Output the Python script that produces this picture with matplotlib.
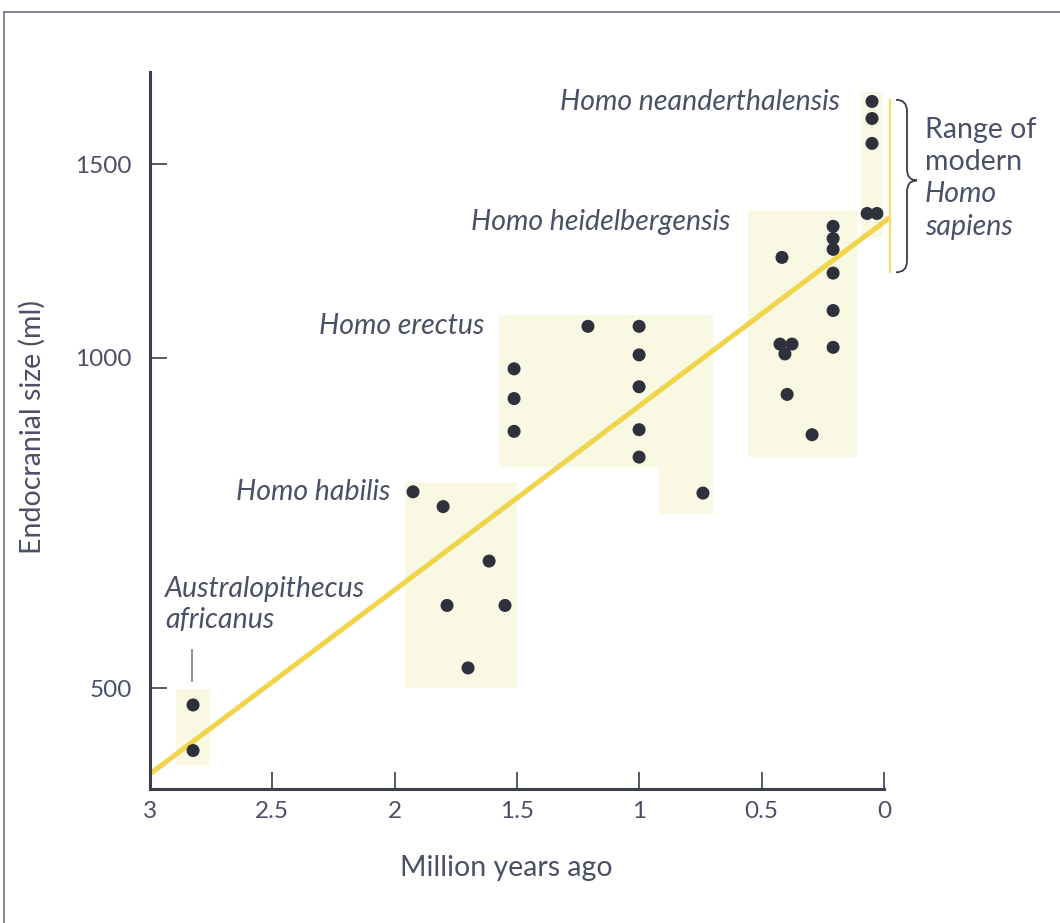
import matplotlib
matplotlib.use("Agg")
import matplotlib.pyplot as plt
from matplotlib.patches import Rectangle, PathPatch
from matplotlib.path import Path
from matplotlib.ticker import NullLocator, FixedLocator, FixedFormatter

plt.rcParams['font.family'] = ['Lato', 'DejaVu Sans']

# --- data (million years ago, endocranial size in ml) ---
austral_x = [2.824, 2.824]
austral_y = [483, 439]

habilis_x = [1.925, 1.802, 1.614, 1.786, 1.549, 1.700]
habilis_y = [755, 732, 653, 595, 595, 522]

erectus_x = [1.210, 1.001, 1.001, 1.001, 1.512, 1.512, 1.512, 1.001, 1.001, 0.740]
erectus_y = [1068, 1068, 1006, 941, 977, 918, 857, 860, 812, 753]

heidel_x = [0.417, 0.208, 0.208, 0.208, 0.208, 0.208, 0.208, 0.425, 0.376, 0.405, 0.396, 0.294]
heidel_y = [1234, 1317, 1284, 1255, 1194, 1104, 1022, 1029, 1029, 1008, 926, 851]

neander_x = [0.049, 0.049, 0.049, 0.069, 0.029]
neander_y = [1711, 1651, 1567, 1353, 1353]

# regression line end points
trend_x = [3.0, -0.025]
trend_y = [418, 1342]

# shaded ranges: (x_old, x_young, y_low, y_high)
shade_boxes = [
    (2.894, 2.754, 425, 499),
    (1.958, 1.500, 501, 771),
    (1.573, 0.699, 796, 1093),
    (0.920, 0.699, 720, 796),
    (0.556, 0.110, 812, 1362),
    (0.094, 0.004, 1284, 1744),
]

# modern Homo sapiens range
modern_range = [1196, 1717]

x_ticks = [3, 2.5, 2, 1.5, 1, 0.5, 0]
x_tick_labels = ["3", "2.5", "2", "1.5", "1", "0.5", "0"]
y_ticks = [500, 1000, 1500]
y_tick_labels = ["500", "1000", "1500"]

text_col = "#4b5068"
dark = "#3b3e4f"
dot_col = "#2e303c"
shade_col = "#f8f8e3"
yellow = "#f1d44a"

fig = plt.figure(figsize=(10.6, 9.23), dpi=100)
ax = fig.add_axes([150 / 1060, 1 - 789 / 923, (884 - 150) / 1060, (789 - 72) / 923])

ax.set_yscale("log")
ax.set_xlim(3, 0)
ax.set_ylim(405, 1820)

# shaded boxes
for x0, x1, y0, y1 in shade_boxes:
    ax.add_patch(Rectangle((x1, y0), x0 - x1, y1 - y0, facecolor=shade_col,
                           edgecolor="none", zorder=1, clip_on=False))

# trend line
ax.plot(trend_x, trend_y, color=yellow, lw=3.6, solid_capstyle="butt", zorder=2, clip_on=False)

# points
all_x = austral_x + habilis_x + erectus_x + heidel_x + neander_x
all_y = austral_y + habilis_y + erectus_y + heidel_y + neander_y
ax.scatter(all_x, all_y, s=88, color=dot_col, edgecolors="none", zorder=3, clip_on=False)

# modern range line + brace
ax.plot([-0.025, -0.025], modern_range, color="#f3dc6c", lw=1.6, zorder=2, clip_on=False)

y_lo, y_hi = modern_range
y_mid = 1450
k = 1.024
xt, xs, xp = -0.049, -0.094, -0.135
verts = [(xt, y_hi), (xs, y_hi), (xs, y_hi / k),
         (xs, y_mid * k), (xs, y_mid), (xp, y_mid),
         (xs, y_mid), (xs, y_mid / k),
         (xs, y_lo * k), (xs, y_lo), (xt, y_lo)]
codes = [Path.MOVETO, Path.CURVE3, Path.CURVE3,
         Path.LINETO, Path.CURVE3, Path.CURVE3,
         Path.CURVE3, Path.CURVE3,
         Path.LINETO, Path.CURVE3, Path.CURVE3]
ax.add_patch(PathPatch(Path(verts, codes), facecolor="none", edgecolor=dark,
                       lw=1.3, clip_on=False, zorder=3))

# labels
fs = 20.5
ax.text(0.18, 1682, "Homo neanderthalensis", style="italic", fontsize=fs, color=text_col,
        ha="right", va="baseline")
ax.text(0.629, 1306, "Homo heidelbergensis", style="italic", fontsize=fs, color=text_col,
        ha="right", va="baseline")
ax.text(1.635, 1050, "Homo erectus", style="italic", fontsize=fs, color=text_col,
        ha="right", va="baseline")
ax.text(2.019, 742, "Homo habilis", style="italic", fontsize=fs, color=text_col,
        ha="right", va="baseline")
ax.text(2.938, 606, "Australopithecus", style="italic", fontsize=fs, color=text_col,
        ha="left", va="baseline")
ax.text(2.938, 568, "africanus", style="italic", fontsize=fs, color=text_col,
        ha="left", va="baseline")
ax.plot([2.828, 2.828], [508, 542], color="#7a7f92", lw=1.2, clip_on=False)

range_lines = [("Range of", "normal", 1612), ("modern", "normal", 1508),
               ("Homo", "italic", 1410), ("sapiens", "italic", 1316)]
for txt, st, yv in range_lines:
    ax.text(-0.168, yv, txt, style=st, fontsize=fs, color=text_col, ha="left", va="center")

# axes styling
for side in ["top", "right"]:
    ax.spines[side].set_visible(False)
for side in ["left", "bottom"]:
    ax.spines[side].set_linewidth(2.2)
    ax.spines[side].set_color(dark)

ax.xaxis.set_major_locator(FixedLocator(x_ticks))
ax.xaxis.set_major_formatter(FixedFormatter(x_tick_labels))
ax.yaxis.set_major_locator(FixedLocator(y_ticks))
ax.yaxis.set_major_formatter(FixedFormatter(y_tick_labels))
ax.yaxis.set_minor_locator(NullLocator())
ax.xaxis.set_minor_locator(NullLocator())
ax.tick_params(direction="in", length=12, width=1.2, color=dark,
               labelsize=17.5, labelcolor=text_col)
ax.tick_params(axis="y", pad=13)
ax.tick_params(axis="x", pad=9)

ax.set_xlabel("Million years ago", fontsize=20.5, color=text_col)
ax.xaxis.label.set_va("center")
ax.xaxis.set_label_coords((506 - 150) / 734, (789 - 868) / 717)
ax.set_ylabel("Endocranial size (ml)", fontsize=20.5, color=text_col)
ax.yaxis.label.set_va("center")
ax.yaxis.set_label_coords((32 - 150) / 734, (789 - 427) / 717)
ax.set_facecolor("none")

# page frame
fig.add_artist(plt.Line2D([4 / 1060, 1], [1 - 12 / 923, 1 - 12 / 923], color="#6e7385", lw=1.2))
fig.add_artist(plt.Line2D([4 / 1060, 4 / 1060], [0, 1 - 12 / 923], color="#6e7385", lw=1.2))

fig.savefig("out.png", dpi=100)
